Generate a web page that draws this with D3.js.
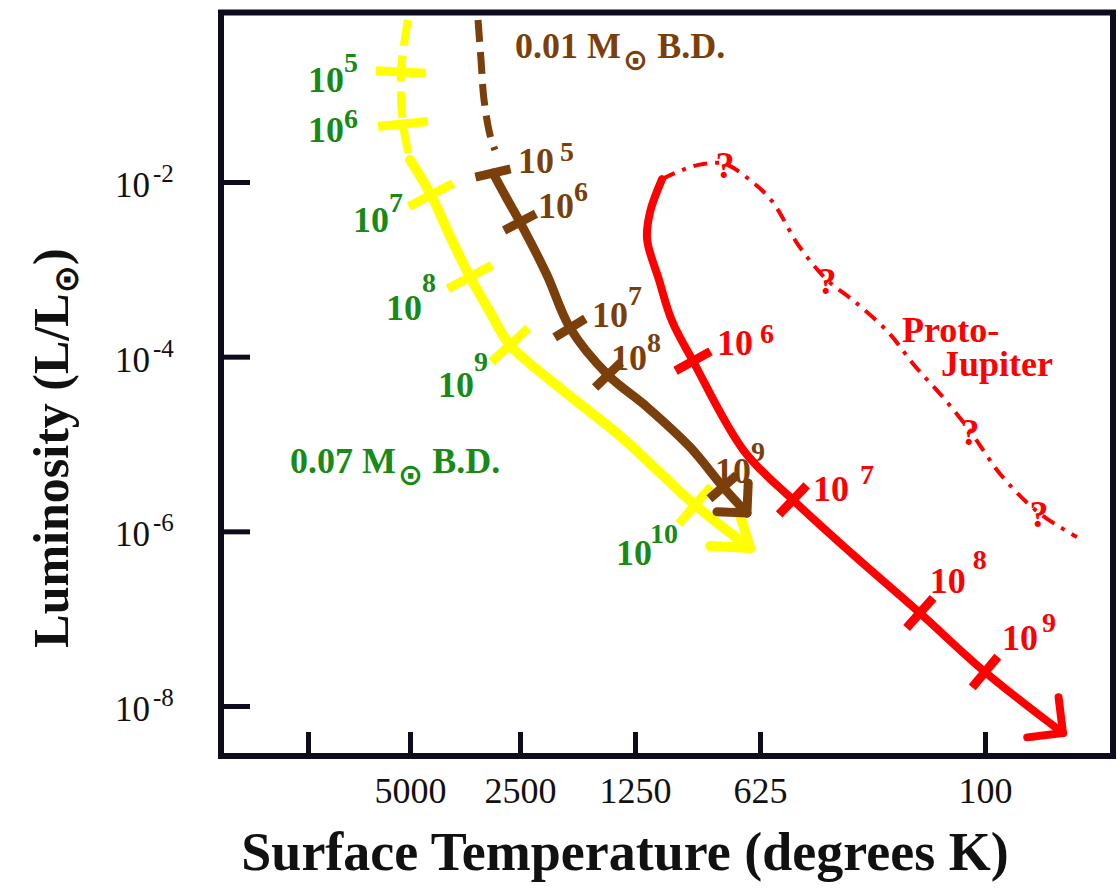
<!DOCTYPE html>
<html>
<head>
<meta charset="utf-8">
<script src="https://cdn.jsdelivr.net/npm/d3@7"></script>
<style>
  body { margin: 0; background: #ffffff; }
  svg { display: block; }
  text { font-family: "Liberation Serif", "Times New Roman", serif; }
</style>
</head>
<body>
<svg id="chart" width="1117" height="891"></svg>
<script>
// ---- Axis ticks ----
const tempTicks = [10000, 5000, 2500, 1250, 625, 100];        // K
const tempTickLabels = ["", "5000", "2500", "1250", "625", "100"];
const lumTicks = [1e-2, 1e-4, 1e-6, 1e-8];                     // L / Lsun
const lumTickExponents = ["-2", "-4", "-6", "-8"];

// ---- 0.07 Msun brown dwarf ----
const bd07EarlyTemp = [5069, 5316, 5243, 5000];
const bd07EarlyLum  = [0.716, 0.182, 0.0461, 0.0179];
const bd07Temp = [5000, 4380, 3888, 3426, 3020, 2663, 1964, 1368, 896, 660];
const bd07Lum  = [0.0179, 7.10e-3, 2.41e-3, 8.17e-4, 3.25e-4, 1.36e-4, 4.37e-5, 1.24e-5, 2.00e-6, 6.44e-7];
const bd07AgeExp  = ["5", "6", "7", "8", "9", "10"];          // age = 10^n years
const bd07AgeTemp = [5316, 5243, 4380, 3426, 2663, 896];
const bd07AgeLum  = [0.182, 0.0461, 7.10e-3, 8.17e-4, 1.36e-4, 2.00e-6];

// ---- 0.01 Msun brown dwarf ----
const bd01EarlyTemp = [3257, 3196, 3136, 3020, 2927];
const bd01EarlyLum  = [0.716, 0.249, 0.0869, 0.0345, 0.0232];
const bd01Temp = [2964, 2731, 2500, 2125, 1849, 1471, 1169, 922, 767, 672];
const bd01Lum  = [0.01267, 6.73e-3, 3.48e-3, 8.61e-4, 2.13e-4, 6.17e-5, 2.65e-5, 9.25e-6, 3.22e-6, 1.62e-6];
const bd01AgeExp  = ["5", "6", "7", "8", "9"];
const bd01AgeTemp = [2964, 2500, 1849, 1471, 767];
const bd01AgeLum  = [0.01267, 3.48e-3, 2.13e-4, 6.17e-5, 3.22e-6];

// ---- Proto-Jupiter ----
const jupTemp = [1076, 1150, 1169, 1094, 1018, 906, 683, 478, 300, 170, 100, 53];
const jupLum  = [0.0108, 4.53e-3, 2.22e-3, 7.55e-4, 2.56e-4, 8.91e-5, 8.32e-6, 2.29e-6, 5.79e-7, 1.16e-7, 2.45e-8, 4.91e-9];
const jupAgeExp  = ["6", "7", "8", "9"];
const jupAgeTemp = [906, 478, 170, 100];
const jupAgeLum  = [8.91e-5, 2.29e-6, 1.16e-7, 2.45e-8];
// uncertain early contraction path
const jupEarlyTemp = [1076, 963, 857, 759, 657, 567, 455, 362, 291, 220, 177, 141, 113, 87.8, 64.4, 47.3];
const jupEarlyLum  = [0.0108, 0.0137, 0.0161, 0.0161, 0.0103, 6.05e-3, 1.85e-3, 7.55e-4, 4.34e-4, 1.91e-4, 7.82e-5, 3.45e-5, 1.41e-5, 4.42e-6, 1.62e-6, 8.61e-7];
const jupQueryIdx = [3, 7, 12, 14];

// ---- Styling ----
const INK = "#0c0c1c";
const YELLOW = "#ffff00", BROWN = "#7b3f0c", RED = "#ff0000", GREEN = "#178a17";
const SUN = "\u2299";

const svg = d3.select("#chart");

// Temperature runs right-to-left on a log axis (hand-spaced, so piecewise)
const x = d3.scaleLog().domain(tempTicks).range([308, 410, 520, 635, 760, 985]);
const y = d3.scaleLog().domain([1e-2, 1e-8]).range([182, 706]);

const frame = { left: 221, top: 12.5, right: 1113, bottom: 756 };

// ---- Frame ----
svg.append("rect")
  .attr("x", frame.left).attr("y", frame.top)
  .attr("width", frame.right - frame.left).attr("height", frame.bottom - frame.top)
  .attr("fill", "none").attr("stroke", INK).attr("stroke-width", 6);

// ---- X axis ----
const xAxis = d3.axisBottom(x).tickValues(tempTicks).tickSize(-24).tickPadding(21)
  .tickFormat((d, i) => tempTickLabels[i]);
const gx = svg.append("g").attr("transform", `translate(0,${frame.bottom})`).call(xAxis);
gx.select(".domain").remove();
gx.selectAll(".tick line").attr("stroke", INK).attr("stroke-width", 5);
gx.selectAll(".tick text").attr("fill", "#111").attr("font-size", 36)
  .attr("font-family", "Liberation Serif");

// ---- Y axis ----
const yAxis = d3.axisLeft(y).tickValues(lumTicks).tickSize(-29).tickFormat("");
const gy = svg.append("g").attr("transform", `translate(${frame.left},0)`).call(yAxis);
gy.select(".domain").remove();
gy.selectAll(".tick line").attr("stroke", INK).attr("stroke-width", 5);

const yLab = svg.append("g").selectAll("text").data(lumTicks).join("text")
  .attr("x", 115).attr("y", d => y(d) + 15)
  .attr("font-size", 35).attr("fill", "#111");
yLab.append("tspan").text("10");
yLab.append("tspan").attr("dx", 3).attr("dy", -15).attr("font-size", 25)
  .text((d, i) => lumTickExponents[i]);

// ---- Axis titles ----
svg.append("text")
  .attr("x", 625).attr("y", 870).attr("text-anchor", "middle")
  .attr("font-size", 54).attr("font-weight", "bold").attr("fill", "#111")
  .text("Surface Temperature (degrees K)");

const yt = svg.append("text")
  .attr("transform", "translate(68,448) rotate(-90)")
  .attr("text-anchor", "middle")
  .attr("font-size", 50).attr("font-weight", "bold").attr("fill", "#111");
yt.append("tspan").text("Luminosity (L/L");
yt.append("tspan").attr("dy", 10).attr("font-size", 34)
  .attr("font-family", "DejaVu Sans").attr("font-weight", "bold").text(SUN);
yt.append("tspan").attr("dy", -10).text(")");

// ---- Track helpers ----
const line = d3.line().x(d => x(d[0])).y(d => y(d[1])).curve(d3.curveCatmullRom.alpha(0.5));
const px = d => [x(d[0]), y(d[1])];

function drawPath(g, pts, color, width, dash) {
  g.append("path").attr("d", line(pts))
    .attr("fill", "none").attr("stroke", color).attr("stroke-width", width)
    .attr("stroke-linecap", dash ? "butt" : "round").attr("stroke-linejoin", "round")
    .attr("stroke-dasharray", dash || null);
}

// short bar across the track at each age mark
function drawAgeTicks(g, trackPts, agePts, color, len, width) {
  const p = trackPts.map(px);
  agePts.forEach(a => {
    const q = px(a);
    let best = 0, bd = Infinity;
    p.forEach((r, i) => { const d = (r[0] - q[0]) ** 2 + (r[1] - q[1]) ** 2; if (d < bd) { bd = d; best = i; } });
    const prev = p[Math.max(best - 1, 0)], next = p[Math.min(best + 1, p.length - 1)];
    let tx = next[0] - prev[0], ty = next[1] - prev[1];
    const n = Math.hypot(tx, ty); tx /= n; ty /= n;
    const nx = -ty, ny = tx;
    g.append("line")
      .attr("x1", q[0] - nx * len / 2).attr("y1", q[1] - ny * len / 2)
      .attr("x2", q[0] + nx * len / 2).attr("y2", q[1] + ny * len / 2)
      .attr("stroke", color).attr("stroke-width", width).attr("stroke-linecap", "butt");
  });
}

// open arrowhead at the end of a track
function drawArrow(g, pts, color, len, spread, width) {
  const p = pts.map(px);
  const tip = p[p.length - 1], prev = p[p.length - 2];
  const ang = Math.atan2(tip[1] - prev[1], tip[0] - prev[0]) + Math.PI;
  [-spread, spread].forEach(s => {
    const a = ang + s * Math.PI / 180;
    g.append("line")
      .attr("x1", tip[0]).attr("y1", tip[1])
      .attr("x2", tip[0] + Math.cos(a) * len).attr("y2", tip[1] + Math.sin(a) * len)
      .attr("stroke", color).attr("stroke-width", width).attr("stroke-linecap", "round");
  });
}

function ageLabels(g, agePts, exps, offsets, color) {
  agePts.forEach((a, i) => {
    const q = px(a), o = offsets[i];
    g.append("text").attr("x", q[0] + o[0]).attr("y", q[1] + o[1])
      .attr("font-size", 36).attr("font-weight", "bold").attr("fill", color).text("10");
    g.append("text").attr("x", q[0] + o[0] + o[2]).attr("y", q[1] + o[1] + o[3])
      .attr("font-size", 28).attr("font-weight", "bold").attr("fill", color).text(exps[i]);
  });
}

const bd07Early = d3.zip(bd07EarlyTemp, bd07EarlyLum);
const bd07 = d3.zip(bd07Temp, bd07Lum);
const bd07Ages = d3.zip(bd07AgeTemp, bd07AgeLum);
const bd01Early = d3.zip(bd01EarlyTemp, bd01EarlyLum);
const bd01 = d3.zip(bd01Temp, bd01Lum);
const bd01Ages = d3.zip(bd01AgeTemp, bd01AgeLum);
const jup = d3.zip(jupTemp, jupLum);
const jupAges = d3.zip(jupAgeTemp, jupAgeLum);
const jupEarly = d3.zip(jupEarlyTemp, jupEarlyLum);

// label placement (px offset of "10" from age mark, then of exponent from "10")
const bd07LabelPos = [[-93, 20, 36, -20], [-95, 18, 36, -14], [-78, 37, 36, -20], [-84, 43, 36, -28], [-72, 52, 36, -26], [-79, 60, 34, -22]];
const bd01LabelPos = [[25, 0, 42, -12], [18, -4, 36, -17], [22, -1, 36, -22], [3, -5, 36, -18], [-8, -4, 36, -22]];
const jupLabelPos  = [[24, -6, 43, -12], [20, 1, 47, -17], [10, -20, 43, -24], [17, -22, 40, -18]];

// ---- 0.07 Msun track ----
const gY = svg.append("g");
drawPath(gY, bd07Early, YELLOW, 8, "26,10");
drawPath(gY, bd07, YELLOW, 10);
drawAgeTicks(gY, bd07Early.concat(bd07.slice(1)), bd07Ages, YELLOW, 50, 9);
drawArrow(gY, bd07, YELLOW, 40, 35, 10);

// ---- 0.01 Msun track ----
const gB = svg.append("g");
drawPath(gB, bd01Early, BROWN, 7, "22,10");
drawPath(gB, bd01, BROWN, 9);
drawAgeTicks(gB, bd01Early.concat(bd01), bd01Ages, BROWN, 36, 9);
drawArrow(gB, bd01, BROWN, 30, 45, 9);

// ---- labels for the two brown dwarfs ----
const gL = svg.append("g");
ageLabels(gL, bd07Ages, bd07AgeExp, bd07LabelPos, GREEN);
ageLabels(gL, bd01Ages, bd01AgeExp, bd01LabelPos, BROWN);

function massLabel(g, xPos, yPos, mass, color) {
  const t = g.append("text").attr("x", xPos).attr("y", yPos)
    .attr("font-size", 36).attr("font-weight", "bold").attr("fill", color);
  t.append("tspan").text(mass + " M");
  t.append("tspan").attr("dy", 12).attr("dx", 2).attr("font-size", 30)
    .attr("font-family", "DejaVu Sans").text(SUN);
  t.append("tspan").attr("dy", -12).text(" B.D.");
}
massLabel(gL, 290, 473, "0.07", GREEN);
massLabel(gL, 515, 58, "0.01", BROWN);

// ---- Proto-Jupiter track ----
const gR = svg.append("g");
drawPath(gR, jupEarly, RED, 4, "14,8,4,8");
drawPath(gR, jup, RED, 8);
drawAgeTicks(gR, jup, jupAges, RED, 40, 9);
drawArrow(gR, jup, RED, 36, 45, 8);
ageLabels(gR, jupAges, jupAgeExp, jupLabelPos, RED);

gR.selectAll("text.q").data(jupQueryIdx).join("text").attr("class", "q")
  .attr("x", i => x(jupEarlyTemp[i])).attr("y", i => y(jupEarlyLum[i]) + 14)
  .attr("text-anchor", "middle").attr("font-size", 38).attr("font-weight", "bold")
  .attr("fill", RED).text("?");

const pj = gR.append("text").attr("font-size", 36).attr("font-weight", "bold").attr("fill", RED);
pj.append("tspan").attr("x", 902).attr("y", 342).text("Proto-");
pj.append("tspan").attr("x", 941).attr("y", 376).text("Jupiter");
</script>
</body>
</html>
